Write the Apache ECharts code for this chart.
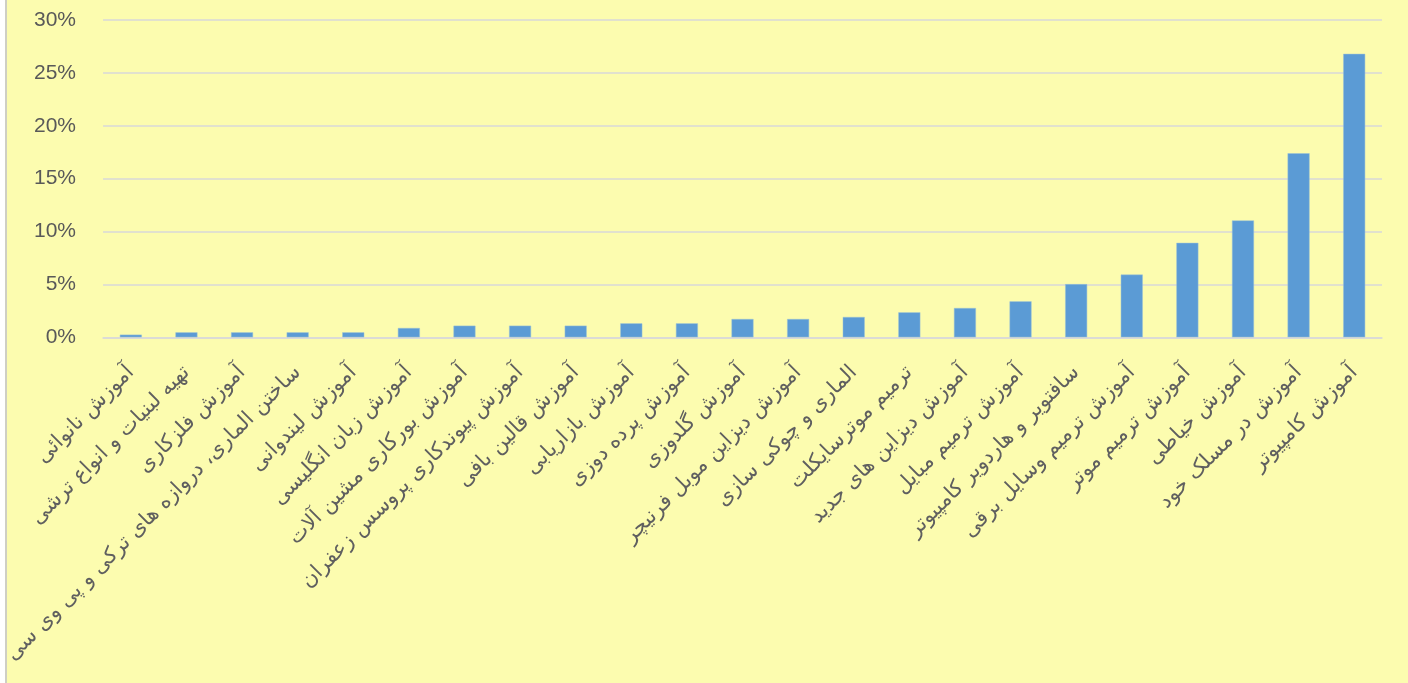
<!DOCTYPE html>
<html>
<head>
<meta charset="utf-8">
<script src="https://cdn.jsdelivr.net/npm/echarts@6/dist/echarts.min.js"></script>
<style>
html,body{margin:0;padding:0;background:#fff;}
#chart{width:1408px;height:683px;}
</style>
</head>
<body>
<div id="chart"></div>
<script>
const categories = [
  "آموزش نانوائی",
  "تهیه لبنیات و انواع ترشی",
  "آموزش فلزکاری",
  "ساختن الماری، دروازه های ترکی و پی وی سی",
  "آموزش لیندوانی",
  "آموزش زبان انگلیسی",
  "آموزش بورکاری مشین آلات",
  "آموزش پیوندکاری پروسس زعفران",
  "آموزش قالین بافی",
  "آموزش بازاریابی",
  "آموزش پرده دوزی",
  "آموزش گلدوزی",
  "آموزش دیزاین موبل فرنیچر",
  "الماری و چوکی سازی",
  "ترمیم موترسایکلت",
  "آموزش دیزاین های جدید",
  "آموزش ترمیم مبایل",
  "سافتویر و هاردویر کامپیوتر",
  "آموزش ترمیم وسایل برقی",
  "آموزش ترمیم موتر",
  "آموزش خیاطی",
  "آموزش در مسلک خود",
  "آموزش کامپیوتر"
];
const values = [0.25, 0.47, 0.47, 0.47, 0.47, 0.88, 1.1, 1.1, 1.1, 1.32, 1.32, 1.73, 1.73, 1.92, 2.36, 2.77, 3.4, 5.03, 5.93, 8.93, 11.05, 17.4, 26.8];
const yTicks = [0, 5, 10, 15, 20, 25, 30];

const chart = echarts.init(document.getElementById('chart'));
chart.setOption({
  backgroundColor: '#FCFCAF',
  animation: false,
  graphic: [
    {type: 'rect', shape: {x: 0, y: 0, width: 5, height: 683}, style: {fill: '#ffffff'}},
    {type: 'rect', shape: {x: 5, y: 0, width: 2, height: 683}, style: {fill: '#cfcfc4'}}
  ],
  grid: {left: 103, right: 26, top: 20, bottom: 345.7},
  xAxis: {
    type: 'category',
    data: categories,
    axisLine: {show: true, lineStyle: {color: '#D9D9D9', width: 1.5}},
    axisTick: {show: false},
    axisLabel: {
      rotate: 45,
      interval: 0,
      margin: 32,
      color: '#5f5f5f',
      fontSize: 21,
      fontFamily: 'DejaVu Sans'
    }
  },
  yAxis: {
    type: 'value',
    min: yTicks[0],
    max: yTicks[yTicks.length - 1],
    interval: 5,
    axisLine: {show: false},
    axisTick: {show: false},
    splitLine: {lineStyle: {color: '#D9D9D9', width: 1.5}},
    axisLabel: {
      formatter: v => v + '%',
      color: '#595959',
      fontSize: 21,
      fontFamily: 'Liberation Sans',
      margin: 27
    }
  },
  series: [{
    type: 'bar',
    data: values,
    barWidth: 22,
    itemStyle: {color: '#5B9BD5', borderColor: '#9CC3D6', borderWidth: 0.5}
  }]
});
</script>
</body>
</html>
